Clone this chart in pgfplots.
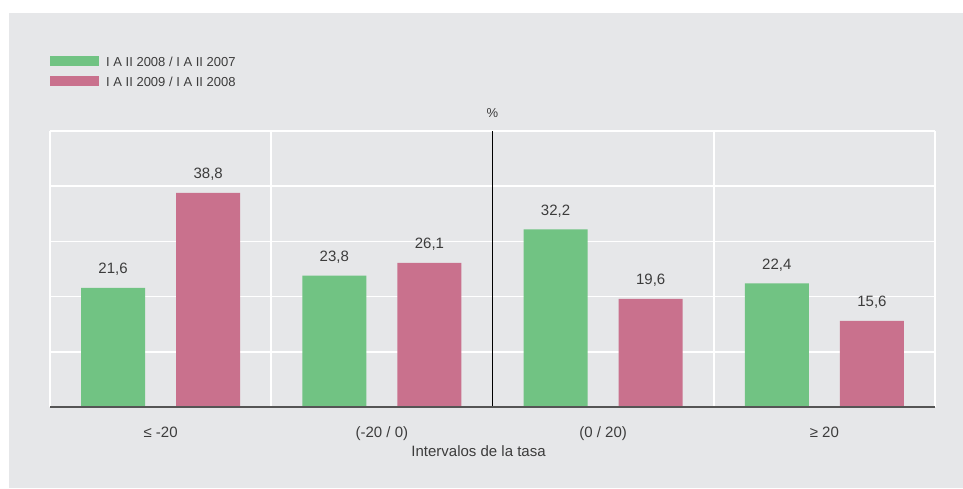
\documentclass[border=0pt]{standalone}
\usepackage{fontspec}
\setmainfont{Liberation Sans}
\usepackage{pgfplots}
\pgfplotsset{compat=1.18}

\definecolor{bgc}{HTML}{E6E7E9}
\definecolor{greenc}{HTML}{71C383}
\definecolor{pinkc}{HTML}{C9718D}
\definecolor{txtc}{HTML}{3C3C3C}
\definecolor{axisc}{HTML}{555555}

\begin{document}
\begin{tikzpicture}
\fill[white] (0,0) rectangle (963pt,488pt);
\fill[bgc] (9pt,0) rectangle (963pt,475pt);
\begin{axis}[
    at={(50pt,81pt)}, anchor=south west,
    scale only axis, width=885pt, height=276pt,
    ybar,
    xmin=-0.5, xmax=3.5, ymin=0, ymax=50,
    xtick={0,1,2,3},
    xticklabels={{≤ -20},{(-20 / 0)},{(0 / 20)},{≥ 20}},
    ytick={0,10,20,30,40,50}, yticklabels={},
    extra x ticks={-0.5,0.5,2.5,3.5}, extra x tick labels={},
    extra x tick style={grid=major},
    ymajorgrids,
    grid style={white, line width=1.6pt},
    major tick length=0pt,
    axis line style={draw=none},
    clip=false,
    tick label style={font=\fontsize{15}{18}\selectfont, text=txtc},
    xticklabel style={anchor=base, yshift=-30pt},
    xlabel={Intervalos de la tasa},
    xlabel style={at={(axis description cs:0.4842,0)}, anchor=base, yshift=-49pt,
        font=\fontsize{15}{18}\selectfont, text=txtc},
    nodes near coords,
    nodes near coords style={font=\fontsize{15}{18}\selectfont, text=txtc, anchor=base, yshift=14pt},
    /pgf/number format/.cd, use comma, fixed, fixed zerofill, precision=1, assume math mode=true,
    /pgfplots/.cd,
    legend image code/.code={\fill[#1] (0pt,-3pt) rectangle (49pt,6.3pt);},
    legend cell align=left,
    legend style={at={(rel axis cs:0,1)}, anchor=north west, yshift=76pt,
        draw=none, fill=none, inner sep=0pt, row sep=5pt, column sep=5pt,
        font=\fontsize{13}{15}\selectfont, text=txtc},
]
\addplot[fill=greenc, draw=none, bar width=0.289, bar shift=-0.215]
    coordinates {(0,21.6) (1,23.8) (2,32.2) (3,22.4)};
\addplot[fill=pinkc, draw=none, bar width=0.289, bar shift=0.215]
    coordinates {(0,38.8) (1,26.1) (2,19.6) (3,15.6)};
\legend{I A II 2008 / I A II 2007, I A II 2009 / I A II 2008}
\draw[black, line width=1pt] (axis cs:1.5,0) -- (axis cs:1.5,50);
\draw[axisc, line width=1.3pt] (rel axis cs:0,0) -- (rel axis cs:1,0);
\node[font=\fontsize{13}{15}\selectfont, text=txtc, anchor=base] at (axis cs:1.5,50) [yshift=14pt] {\%};
\end{axis}
\end{tikzpicture}
\end{document}
